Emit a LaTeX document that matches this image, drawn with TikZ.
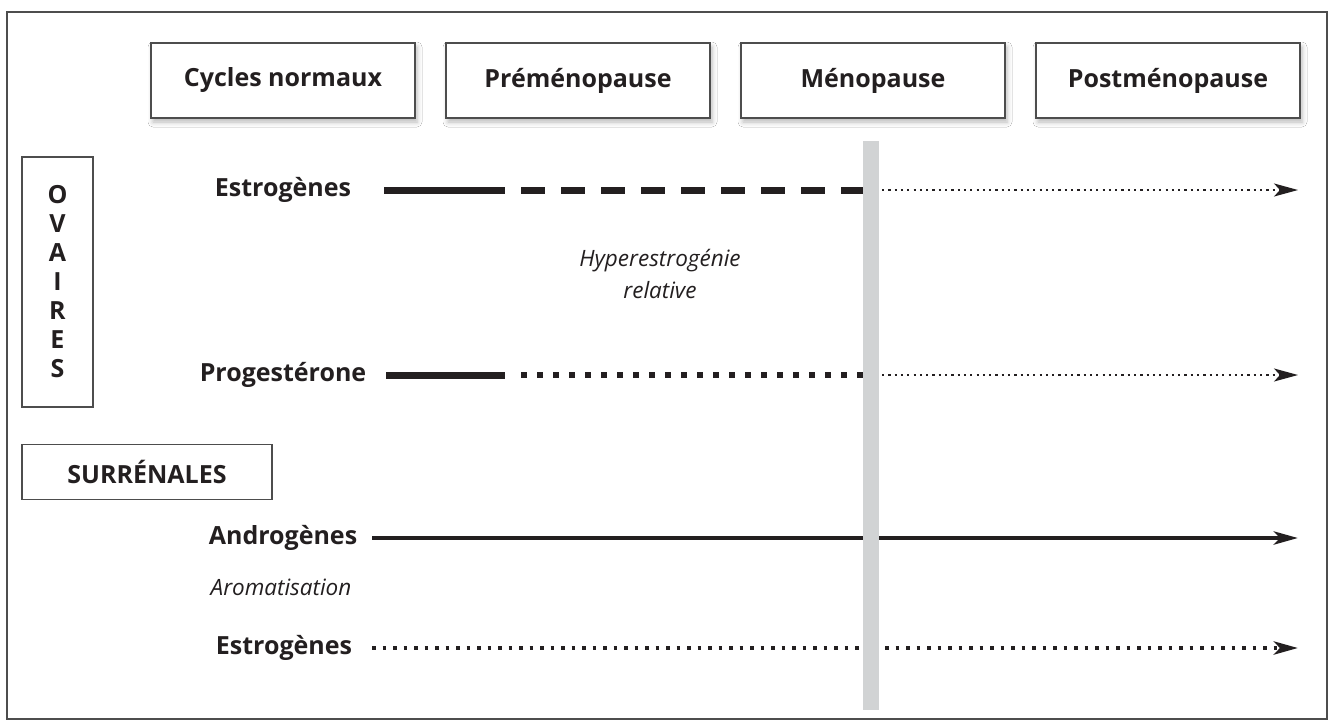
\documentclass[tikz,border=0pt]{standalone}
\usepackage{fontspec}
\setmainfont{Open Sans}
\usetikzlibrary{arrows.meta,shadows.blur}
\definecolor{ink}{HTML}{231F20}
\definecolor{edge}{HTML}{4D4D4D}
\definecolor{barg}{HTML}{D1D3D4}
\begin{document}
\begin{tikzpicture}[x=1pt,y=-1pt,
  phase/.style={draw=edge,line width=1.5pt,fill=white,minimum width=264pt,
    minimum height=75pt,inner sep=0pt,text=ink,
    font=\fontsize{25}{29}\selectfont\bfseries,
    blur shadow={shadow xshift=2pt,shadow yshift=-4pt,shadow blur radius=5pt,shadow opacity=28}},
  organ/.style={draw=edge,line width=1.5pt,fill=white,inner sep=0pt,text=ink,
    font=\fontsize{25}{29}\selectfont\bfseries},
  hormone/.style={text=ink,font=\fontsize{25}{29}\selectfont\bfseries,inner sep=0pt},
  note/.style={text=ink,font=\fontsize{22.5}{32}\selectfont\itshape,inner sep=0pt,align=center},
  solidthick/.style={ink,line width=7pt},
  dashthick/.style={ink,line width=7pt,dash pattern=on 24pt off 16pt},
  squaredots/.style={ink,line width=6.5pt,dash pattern=on 6pt off 10pt},
  finedots/.style={ink,line width=2.2pt,dash pattern=on 2.2pt off 4.1pt},
  middots/.style={ink,line width=4.5pt,dash pattern=on 3.6pt off 6.9pt},
  solidmid/.style={ink,line width=4.5pt},
  tip/.style={-{Stealth[length=24pt,width=13pt,inset=6pt]}}
]
\useasboundingbox (0,0) rectangle (1330,721);
\fill[white] (0,0) rectangle (1330,721);

% outer frame
\draw[edge,line width=1.8pt] (7,12) rectangle (1327,719);

% phase headers
\node[phase] (cyc)  at (283,80.5)  {Cycles normaux};
\node[phase] (pre)  at (578,80.5)  {Préménopause};
\node[phase] (meno) at (873,80.5)  {Ménopause};
\node[phase] (post) at (1168,80.5) {Postménopause};

% organ boxes
\node[organ,minimum width=71pt,minimum height=250pt,align=center,
  font=\fontsize{25}{29}\selectfont\bfseries] (ova) at (57.5,282)
  {O\\V\\A\\I\\R\\E\\S};
\node[organ,minimum width=250pt,minimum height=55pt] (surr) at (147,472) {SURRÉNALES};

% hormone labels
\node[hormone] (est1) at (283,190) {Estrogènes};
\node[hormone] (prog) at (283,375) {Progestérone};
\node[hormone] (andr) at (283,538) {Androgènes};
\node[hormone] (est2) at (284,648) {Estrogènes};

\node[note] (hyper) at (660,274) {Hyperestrogénie\\relative};
\node[note] (arom)  at (281,587) {Aromatisation};

% line waypoints
\coordinate (e1a) at (384,190);  \coordinate (e1b) at (505,190);
\coordinate (e1c) at (521,190);  \coordinate (e1d) at (865,190);
\coordinate (e1e) at (882,190);  \coordinate (e1f) at (1298,190);

\coordinate (p1a) at (386,375);  \coordinate (p1b) at (505,375);
\coordinate (p1c) at (521,375);  \coordinate (p1d) at (865,375);
\coordinate (p1e) at (882,375);  \coordinate (p1f) at (1298,375);

\coordinate (a1a) at (372,538);  \coordinate (a1f) at (1298,538);

\coordinate (e2a) at (372,648);  \coordinate (e2d) at (865,648);
\coordinate (e2e) at (885,648);  \coordinate (e2f) at (1298,648);

% ovarian estrogens
\draw[solidthick] (e1a) -- (e1b);
\draw[dashthick] (e1c) -- (e1d);
\draw[finedots,tip] (e1e) -- (e1f);

% progesterone
\draw[solidthick] (p1a) -- (p1b);
\draw[squaredots] (p1c) -- (p1d);
\draw[finedots,tip] (p1e) -- (p1f);

% adrenal androgens
\draw[solidmid,tip] (a1a) -- (a1f);

% peripheral estrogens
\draw[middots] (e2a) -- (e2d);
\draw[middots,tip] (e2e) -- (e2f);

% menopause marker
\node[fill=barg,minimum width=16pt,minimum height=569pt,inner sep=0pt] (mbar) at (871,425.5) {};
\end{tikzpicture}
\end{document}
